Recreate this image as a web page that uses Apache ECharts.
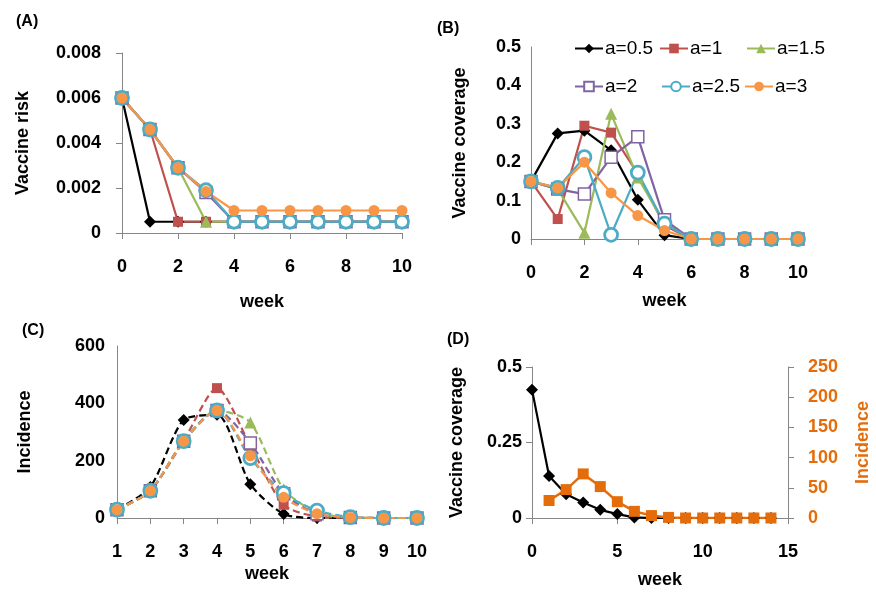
<!DOCTYPE html>
<html>
<head>
<meta charset="utf-8">
<script src="https://cdn.jsdelivr.net/npm/echarts@6/dist/echarts.min.js"></script>
<style>
html,body{margin:0;padding:0;background:#fff;}
#main{width:876px;height:594px;}
</style>
</head>
<body>
<div id="main"></div>
<script>
// names and colours of the six a-values
var names = ["a=0.5", "a=1", "a=1.5", "a=2", "a=2.5", "a=3"];
var colors = ["#000000", "#C0504D", "#9BBB59", "#8064A2", "#4BACC6", "#F79646"];
var symbols = ["diamond", "rect", "triangle", "rect", "circle", "circle"];
var hollow = [false, false, false, true, true, false];
var sizes = [12, 10, 12, 12, 13, 11];

// (A) vaccine risk, weeks 0..10
var weeksA = [0, 1, 2, 3, 4, 5, 6, 7, 8, 9, 10];
var riskA05 = [0.006, 0.0005, 0.0005, 0.0005, 0.0005, 0.0005, 0.0005, 0.0005, 0.0005, 0.0005, 0.0005];
var riskA1 = [0.006, 0.0046, 0.0005, 0.0005, 0.0005, 0.0005, 0.0005, 0.0005, 0.0005, 0.0005, 0.0005];
var riskA15 = [0.006, 0.0046, 0.0029, 0.0005, 0.0005, 0.0005, 0.0005, 0.0005, 0.0005, 0.0005, 0.0005];
var riskA2 = [0.006, 0.0046, 0.0029, 0.0018, 0.0005, 0.0005, 0.0005, 0.0005, 0.0005, 0.0005, 0.0005];
var riskA25 = [0.006, 0.0046, 0.0029, 0.0019, 0.0005, 0.0005, 0.0005, 0.0005, 0.0005, 0.0005, 0.0005];
var riskA3 = [0.006, 0.0046, 0.0029, 0.00185, 0.001, 0.001, 0.001, 0.001, 0.001, 0.001, 0.001];

// (B) vaccine coverage, weeks 0..10
var covB05 = [0.15, 0.275, 0.282, 0.231, 0.102, 0.01, 0, 0, 0, 0, 0];
var covB1 = [0.15, 0.052, 0.295, 0.277, 0.17, 0.035, 0, 0, 0, 0, 0];
var covB15 = [0.15, 0.13, 0.016, 0.326, 0.16, 0.04, 0, 0, 0, 0, 0];
var covB2 = [0.15, 0.13, 0.117, 0.213, 0.266, 0.05, 0, 0, 0, 0, 0];
var covB25 = [0.15, 0.133, 0.213, 0.011, 0.173, 0.04, 0, 0, 0, 0, 0];
var covB3 = [0.15, 0.133, 0.2, 0.12, 0.061, 0.022, 0, 0, 0, 0, 0];

// (C) incidence, weeks 1..10
var weeksC = ["1", "2", "3", "4", "5", "6", "7", "8", "9", "10"];
var incC05 = [29, 108, 342, 360, 118, 14, 0, 0, 0, 0];
var incC1 = [29, 95, 270, 453, 252, 46, 5, 1, 0, 0];
var incC15 = [29, 95, 270, 375, 333, 100, 20, 2, 0, 0];
var incC2 = [29, 95, 268, 375, 262, 85, 15, 2, 0, 0];
var incC25 = [29, 95, 268, 375, 209, 87, 26, 3, 0, 0];
var incC3 = [29, 95, 268, 375, 217, 72, 15, 2, 0, 0];

// (D) coverage (left) and incidence (right)
var weeksD = [0, 1, 2, 3, 4, 5, 6, 7, 8, 9, 10, 11, 12, 13, 14];
var covD = [0.425, 0.139, 0.079, 0.051, 0.027, 0.013, 0.002, 0, 0, 0, 0, 0, 0, 0, 0];
var weeksD2 = [1, 2, 3, 4, 5, 6, 7, 8, 9, 10, 11, 12, 13, 14];
var incD = [29, 47, 73, 52, 27, 11, 4, 1, 0, 0, 0, 0, 0, 0];

var riskA = [riskA05, riskA1, riskA15, riskA2, riskA25, riskA3];
var covB = [covB05, covB1, covB15, covB2, covB25, covB3];
var incC = [incC05, incC1, incC15, incC2, incC25, incC3];

var FONT = "Liberation Sans";
var GRAY = "#868686";

function pairs(xs, ys) {
    return xs.map(function (x, i) { return [x, ys[i]]; });
}

function axLine() {
    return {show: true, lineStyle: {color: GRAY, width: 1}};
}
function axTick() {
    return {show: true, inside: false, length: 6, lineStyle: {color: GRAY, width: 1}};
}
function axLabel(margin, color) {
    return {fontFamily: FONT, fontWeight: "bold", fontSize: 18, color: color || "#000", margin: margin};
}
function nameStyle(color) {
    return {fontFamily: FONT, fontWeight: "bold", fontSize: 18, color: color || "#000"};
}

function lineSeries(i, xi, yi, data, dashed) {
    return {
        name: names[i],
        type: "line",
        xAxisIndex: xi,
        yAxisIndex: yi,
        data: data,
        symbol: symbols[i],
        symbolSize: sizes[i],
        showAllSymbol: true,
        smooth: dashed ? 0.25 : false,
        color: colors[i],
        lineStyle: {color: colors[i], width: 2.2, type: dashed ? [7, 4] : "solid"},
        itemStyle: hollow[i]
            ? {color: "#fff", borderColor: colors[i], borderWidth: i == 4 ? 2.8 : 1.5}
            : {color: colors[i]},
        emphasis: {disabled: true},
        animation: false
    };
}

var Mychart = echarts.init(document.getElementById("main"));

var series = [];
for (var i = 0; i < 6; i++) series.push(lineSeries(i, 0, 0, pairs(weeksA, riskA[i]), false));
for (var i = 0; i < 6; i++) series.push(lineSeries(i, 1, 1, pairs(weeksA, covB[i]), false));
for (var i = 0; i < 6; i++) series.push(lineSeries(i, 2, 2, incC[i], true));
series.push({
    name: "Vaccine coverage",
    type: "line", xAxisIndex: 3, yAxisIndex: 3,
    data: pairs(weeksD, covD),
    symbol: "diamond", symbolSize: 12, showAllSymbol: true,
    lineStyle: {color: "#000", width: 2.2},
    itemStyle: {color: "#000"},
    animation: false
});
series.push({
    name: "Incidence",
    type: "line", xAxisIndex: 3, yAxisIndex: 4,
    data: pairs(weeksD2, incD),
    symbol: "rect", symbolSize: 11, showAllSymbol: true,
    lineStyle: {color: "#E46C0A", width: 2.5},
    itemStyle: {color: "#E46C0A"},
    animation: false
});

// legend items in panel B, placed on a 3-column grid like the original
var legendPos = [[569, 34], [654, 34], [741, 34], [569, 72], [656, 72], [739, 72]];
var legends = names.map(function (n, k) {
    return {
        data: [n], left: legendPos[k][0], top: legendPos[k][1],
        itemWidth: 28, itemHeight: 12, itemGap: 0,
        selectedMode: false,
        textStyle: {fontFamily: FONT, fontSize: 19, color: "#000", padding: [0, 0, 0, -3]}
    };
});

var labelStyle = {fontFamily: FONT, fontWeight: "bold", fontSize: 16, color: "#000"};

option = {
    backgroundColor: "#fff",
    animation: false,
    title: [
        {text: "(A)", left: 11, top: 9, textStyle: labelStyle},
        {text: "(B)", left: 432, top: 16, textStyle: labelStyle},
        {text: "(C)", left: 17, top: 318, textStyle: labelStyle},
        {text: "(D)", left: 442, top: 327, textStyle: labelStyle}
    ],
    legend: legends,
    grid: [
        {left: 122, top: 53, width: 280, height: 180},
        {left: 531, top: 47, width: 267, height: 192},
        {left: 117, top: 346, width: 300, height: 172},
        {left: 532, top: 367, width: 256, height: 151}
    ],
    xAxis: [
        {type: "value", gridIndex: 0, min: 0, max: 10, interval: 2, splitLine: {show: false},
         axisLine: axLine(), axisTick: axTick(), axisLabel: axLabel(25),
         name: "week", nameLocation: "middle", nameGap: 60, nameTextStyle: nameStyle()},
        {type: "value", gridIndex: 1, min: 0, max: 10, interval: 2, splitLine: {show: false},
         axisLine: axLine(), axisTick: axTick(), axisLabel: axLabel(25),
         name: "week", nameLocation: "middle", nameGap: 53, nameTextStyle: nameStyle()},
        {type: "category", gridIndex: 2, data: weeksC, boundaryGap: false, splitLine: {show: false},
         axisLine: axLine(), axisTick: axTick(), axisLabel: axLabel(25),
         name: "week", nameLocation: "middle", nameGap: 47, nameTextStyle: nameStyle()},
        {type: "value", gridIndex: 3, min: 0, max: 15, interval: 5, splitLine: {show: false},
         axisLine: axLine(), axisTick: axTick(), axisLabel: axLabel(25),
         name: "week", nameLocation: "middle", nameGap: 53, nameTextStyle: nameStyle()}
    ],
    yAxis: [
        {type: "value", gridIndex: 0, min: 0, max: 0.008, interval: 0.002, splitLine: {show: false},
         axisLine: axLine(), axisTick: axTick(), axisLabel: axLabel(21),
         name: "Vaccine risk", nameLocation: "middle", nameGap: 90, nameTextStyle: nameStyle()},
        {type: "value", gridIndex: 1, min: 0, max: 0.5, interval: 0.1, splitLine: {show: false},
         axisLine: axLine(), axisTick: {show: false}, axisLabel: axLabel(10),
         name: "Vaccine coverage", nameLocation: "middle", nameGap: 62, nameTextStyle: nameStyle()},
        {type: "value", gridIndex: 2, min: 0, max: 600, interval: 200, splitLine: {show: false},
         axisLine: axLine(), axisTick: {show: false}, axisLabel: axLabel(12),
         name: "Incidence", nameLocation: "middle", nameGap: 83, nameTextStyle: nameStyle()},
        {type: "value", gridIndex: 3, min: 0, max: 0.5, interval: 0.25, splitLine: {show: false},
         axisLine: axLine(), axisTick: axTick(), axisLabel: axLabel(10),
         name: "Vaccine coverage", nameLocation: "middle", nameGap: 66, nameTextStyle: nameStyle()},
        {type: "value", gridIndex: 3, position: "right", min: 0, max: 250, interval: 50, splitLine: {show: false},
         axisLine: axLine(), axisTick: axTick(), axisLabel: axLabel(20, "#E46C0A"),
         name: "Incidence", nameLocation: "middle", nameGap: 66, nameRotate: 90,
         nameTextStyle: nameStyle("#E46C0A")}
    ],
    series: series
};
Mychart.setOption(option);
</script>
</body>
</html>
